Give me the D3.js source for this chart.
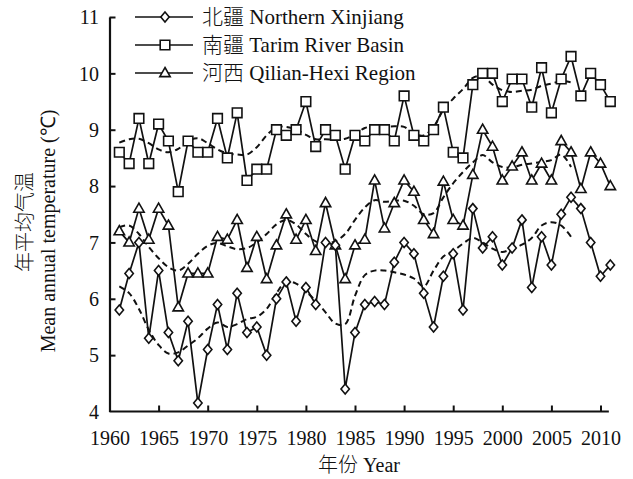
<!DOCTYPE html>
<html><head><meta charset="utf-8">
<script src="https://cdn.jsdelivr.net/npm/d3@7"></script>
<style>
html,body{margin:0;padding:0;background:#fff;}
text{font-family:"Liberation Serif","Times New Roman",serif;fill:#111;}
.cjk{font-family:"Noto Sans CJK SC",sans-serif;font-weight:300;}
</style></head>
<body><svg id="c" width="633" height="479"></svg>
<script>
const years = d3.range(1961, 2012);
const northern = [5.8,6.45,7.0,5.3,6.5,5.4,4.9,5.6,4.15,5.1,5.9,5.1,6.1,5.4,5.5,5.0,6.0,6.3,5.6,6.2,5.9,7.0,6.95,4.4,5.4,5.9,5.95,5.9,6.65,7.0,6.8,6.1,5.5,6.4,6.8,5.8,7.6,6.9,7.1,6.6,6.9,7.4,6.2,7.1,6.6,7.5,7.8,7.6,7.0,6.4,6.6];
const tarim = [8.6,8.4,9.2,8.4,9.1,8.8,7.9,8.8,8.6,8.6,9.2,8.5,9.3,8.1,8.3,8.3,9.0,8.9,9.0,9.5,8.7,9.0,8.9,8.3,8.9,8.8,9.0,9.0,8.8,9.6,8.9,8.8,9.0,9.4,8.6,8.5,9.8,10.0,10.0,9.5,9.9,9.9,9.4,10.1,9.3,9.9,10.3,9.6,10.0,9.8,9.5];
const qilian = [7.2,7.0,7.6,7.05,7.6,7.3,5.85,6.45,6.45,6.45,7.1,7.05,7.4,6.55,7.1,6.35,6.95,7.5,7.05,7.4,6.85,7.7,6.95,6.35,6.95,7.05,8.1,7.25,7.7,8.1,7.9,7.4,7.15,8.08,7.4,7.3,8.2,9.0,8.7,8.1,8.35,8.6,8.1,8.4,8.1,8.8,8.6,7.95,8.6,8.4,8.0];
const smoothYears = d3.range(1961, 2008);
const northernSmooth = [6.22,6.1,5.82,5.45,5.18,5.03,5.05,5.17,5.3,5.47,5.58,5.5,5.55,5.64,5.68,5.82,6.1,6.3,6.27,6.13,5.96,5.76,5.56,5.55,6.05,6.42,6.5,6.5,6.47,6.43,6.36,6.22,6.5,6.75,6.85,6.98,7.08,7.0,6.89,6.83,6.89,6.96,7.08,7.3,7.36,7.3,7.1];
const tarimSmooth = [8.77,8.83,8.84,8.76,8.65,8.6,8.66,8.8,8.85,8.76,8.65,8.58,8.56,8.56,8.69,8.9,9.04,9.05,9.0,8.91,8.83,8.83,8.82,8.84,8.92,9.03,9.06,9.05,9.06,9.05,8.93,8.9,9.05,9.35,9.55,9.72,9.92,9.95,9.8,9.7,9.67,9.69,9.71,9.78,9.82,9.86,9.84];
const qilianSmooth = [7.27,7.3,7.15,6.92,6.72,6.56,6.5,6.62,6.8,6.94,6.99,6.93,6.88,6.9,7.0,7.15,7.32,7.4,7.32,7.15,7.02,6.99,7.02,7.15,7.4,7.62,7.75,7.72,7.74,7.74,7.65,7.5,7.52,7.8,8.05,8.25,8.42,8.55,8.42,8.34,8.33,8.38,8.4,8.43,8.46,8.56,8.34];
const xTicks = [1960,1965,1970,1975,1980,1985,1990,1995,2000,2005,2010];
const yTicks = [4,5,6,7,8,9,10,11];
const seriesNames = [["北疆"," Northern Xinjiang"],["南疆"," Tarim River Basin"],["河西"," Qilian-Hexi Region"]];

const svg = d3.select("#c");
const x = d3.scaleLinear().domain([1960, 2010]).range([109.5, 600.5]);
const y = d3.scaleLinear().domain([4, 11]).range([411.5, 17]);

const markers = {
  diamond: "M0,-5L4.2,0L0,5L-4.2,0Z",
  square: "M-4.8,-4.8H4.8V4.8H-4.8Z",
  triangle: "M0,-5.5L5.2,3.6H-5.2Z"
};

// axes
const xAxis = d3.axisBottom(x).tickValues(xTicks).tickSize(-6).tickFormat(d3.format("d")).tickSizeOuter(0);
const gx = svg.append("g").attr("transform", `translate(0,${y(4)})`).call(xAxis);
gx.select(".domain").attr("d", `M${x(1960)},0H${x(2010.85)}`);
const yAxis = d3.axisLeft(y).tickValues(yTicks).tickSize(-6).tickFormat(d3.format("d")).tickSizeOuter(0);
const gy = svg.append("g").attr("transform", `translate(${x(1960)},0)`).call(yAxis);
[gx, gy].forEach(g => {
  g.select(".domain").attr("stroke", "#111").attr("stroke-width", 2.2);
  g.selectAll(".tick line").attr("stroke", "#111").attr("stroke-width", 2);
  g.selectAll(".tick text").attr("font-size", 20).attr("font-family", "Liberation Serif").attr("fill", "#111");
});
gx.selectAll(".tick text").attr("y", 0).attr("dy", "1.68em");
gy.selectAll(".tick text").attr("x", -10.5).attr("dy", "0.34em");
gy.selectAll(".tick").filter(d => d === 4).select("line").remove();

// smoothed dashed lines
const smoothLine = d3.line().x((d, i) => x(smoothYears[i])).y(d => y(d)).curve(d3.curveCatmullRom.alpha(0.5));
[northernSmooth, tarimSmooth, qilianSmooth].forEach(s => {
  svg.append("path").attr("d", smoothLine(s)).attr("fill", "none")
    .attr("stroke", "#111").attr("stroke-width", 2).attr("stroke-dasharray", "6,4");
});

// series
const line = d3.line().x((d, i) => x(years[i])).y(d => y(d));
const series = [
  {v: tarim, m: markers.square},
  {v: qilian, m: markers.triangle},
  {v: northern, m: markers.diamond}
];
series.forEach(s => {
  svg.append("path").attr("d", line(s.v)).attr("fill", "none")
    .attr("stroke", "#111").attr("stroke-width", 1.7).attr("stroke-linejoin", "miter");
  svg.append("g").selectAll("path").data(s.v).join("path")
    .attr("d", s.m)
    .attr("transform", (d, i) => `translate(${x(years[i])},${y(d)})`)
    .attr("fill", "#fff").attr("stroke", "#111").attr("stroke-width", 1.6);
});

// legend
const legendMarkers = [markers.diamond, markers.square, markers.triangle];
const legendY = [17, 45, 73];
seriesNames.forEach((nm, i) => {
  const g = svg.append("g").attr("transform", `translate(0,${legendY[i]})`);
  g.append("line").attr("x1", 135).attr("x2", 193).attr("y1", 0).attr("y2", 0)
    .attr("stroke", "#111").attr("stroke-width", 1.7);
  g.append("path").attr("d", legendMarkers[i]).attr("transform", "translate(165,0)")
    .attr("fill", "#fff").attr("stroke", "#111").attr("stroke-width", 1.6);
  const t = g.append("text").attr("x", 202).attr("y", 0).attr("dy", "0.35em").attr("font-size", 21);
  t.append("tspan").attr("class", "cjk").text(nm[0]);
  t.append("tspan").text(nm[1]);
});

// axis titles
svg.append("text").attr("class", "cjk")
  .attr("transform", "translate(25,222) rotate(-90)")
  .attr("text-anchor", "middle").attr("dy", "0.35em").attr("font-size", 20)
  .text("年平均气温");
svg.append("text")
  .attr("transform", "translate(48,231) rotate(-90)")
  .attr("text-anchor", "middle").attr("dy", "0.35em").attr("font-size", 20)
  .text("Mean annual temperature (℃)");
const xt = svg.append("text").attr("x", 359).attr("y", 472).attr("text-anchor", "middle").attr("font-size", 20);
xt.append("tspan").attr("class", "cjk").text("年份");
xt.append("tspan").text(" Year");
</script>
</body></html>
